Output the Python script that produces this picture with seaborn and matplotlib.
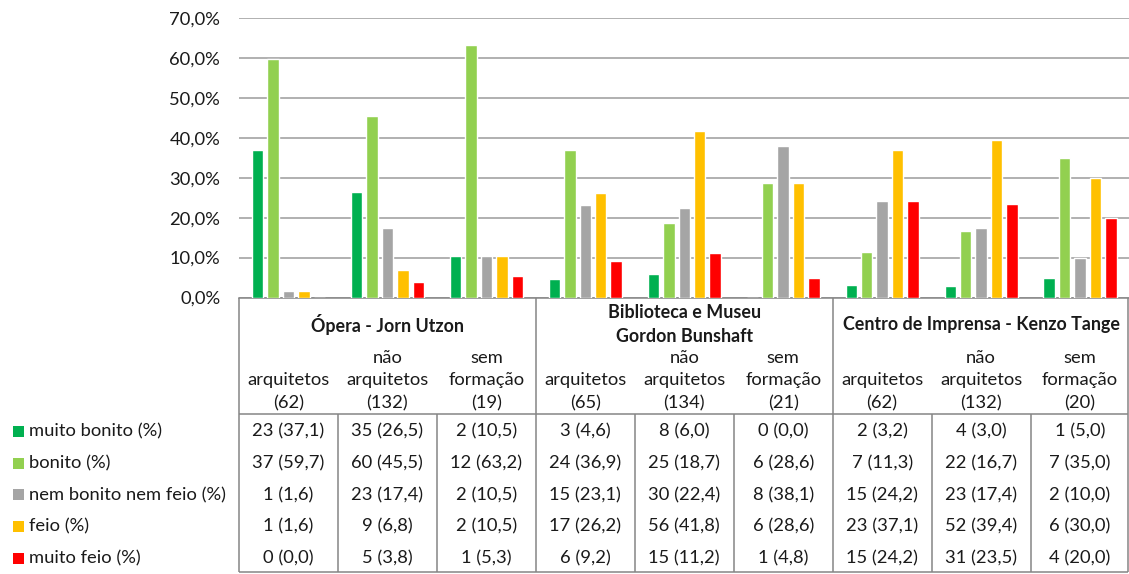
import matplotlib
matplotlib.use("Agg")
import matplotlib.pyplot as plt
from matplotlib.patches import Rectangle
from matplotlib.ticker import FuncFormatter
import pandas as pd
import seaborn as sns

# --- data -------------------------------------------------------------
buildings = ["Ópera - Jorn Utzon",
             "Biblioteca e Museu\nGordon Bunshaft",
             "Centro de Imprensa - Kenzo Tange"]
respondent_groups = ["arquitetos", "não\narquitetos", "sem\nformação"]
sample_sizes = [62, 132, 19, 65, 134, 21, 62, 132, 20]

ratings = ["muito bonito (%)", "bonito (%)", "nem bonito nem feio (%)",
           "feio (%)", "muito feio (%)"]
rating_colors = ["#00B050", "#92D050", "#A5A5A5", "#FFC000", "#FF0000"]

muito_bonito_n = [23, 35, 2, 3, 8, 0, 2, 4, 1]
muito_bonito_pct = [37.1, 26.5, 10.5, 4.6, 6.0, 0.0, 3.2, 3.0, 5.0]
bonito_n = [37, 60, 12, 24, 25, 6, 7, 22, 7]
bonito_pct = [59.7, 45.5, 63.2, 36.9, 18.7, 28.6, 11.3, 16.7, 35.0]
nem_bonito_nem_feio_n = [1, 23, 2, 15, 30, 8, 15, 23, 2]
nem_bonito_nem_feio_pct = [1.6, 17.4, 10.5, 23.1, 22.4, 38.1, 24.2, 17.4, 10.0]
feio_n = [1, 9, 2, 17, 56, 6, 23, 52, 6]
feio_pct = [1.6, 6.8, 10.5, 26.2, 41.8, 28.6, 37.1, 39.4, 30.0]
muito_feio_n = [0, 5, 1, 6, 15, 1, 15, 31, 4]
muito_feio_pct = [0.0, 3.8, 5.3, 9.2, 11.2, 4.8, 24.2, 23.5, 20.0]

y_ticks = [0, 10, 20, 30, 40, 50, 60, 70]

counts = [muito_bonito_n, bonito_n, nem_bonito_nem_feio_n, feio_n, muito_feio_n]
percents = [muito_bonito_pct, bonito_pct, nem_bonito_nem_feio_pct,
            feio_pct, muito_feio_pct]

columns = [f"c{i}" for i in range(len(sample_sizes))]
rows = []
for rating, pct_list in zip(ratings, percents):
    for col, pct in zip(columns, pct_list):
        rows.append({"coluna": col, "avaliacao": rating, "pct": pct})
df = pd.DataFrame(rows)

# --- style ------------------------------------------------------------
sns.set_style("white")
plt.rcParams["font.family"] = ["Lato", "DejaVu Sans"]
TEXT = "#1a1a1a"
FS = 13.2
FS_BOLD = 12.9
GRID = "#A3A3A3"
RULE = "#858585"

W, H = 1129, 574
fig = plt.figure(figsize=(W / 100, H / 100), dpi=100)

# plot area in pixels
x_left, x_right = 239.0, 1129.5
y_top, y_zero = 18.3, 297.5
ax = fig.add_axes([x_left / W, 1 - y_zero / H,
                   (x_right - x_left) / W, (y_zero - y_top) / H])

sns.barplot(data=df, x="coluna", y="pct", hue="avaliacao",
            order=columns, hue_order=ratings, palette=rating_colors,
            saturation=1, width=0.78, gap=0.26, legend=False, ax=ax,
            zorder=3)

ax.set_xlim(-0.5, len(columns) - 0.5)
ax.set_ylim(0, 70)
ax.set_yticks(y_ticks)
ax.yaxis.set_major_formatter(
    FuncFormatter(lambda v, _: f"{v:.1f}%".replace(".", ",")))
ax.tick_params(axis="y", length=0, pad=13.5, labelsize=FS, labelcolor=TEXT)
ax.tick_params(axis="x", length=0, labelbottom=False)
ax.set_xlabel("")
ax.set_ylabel("")
ax.grid(axis="y", color=GRID, linewidth=1.2, zorder=0)
ax.set_axisbelow(True)
for side in ("left", "right", "top"):
    ax.spines[side].set_visible(False)
ax.spines["bottom"].set_color(RULE)
ax.spines["bottom"].set_linewidth(1.1)

# --- data table below the bars ---------------------------------------
tab = fig.add_axes([0, 0, 1, 1], zorder=-1)
tab.set_xlim(0, W)
tab.set_ylim(H, 0)
tab.axis("off")

cw = (x_right - x_left) / len(columns)
col_x = [x_left + (i + 0.5) * cw for i in range(len(columns))]
y_header_rule = 414.0
y_bottom = 572.0
x_table_end = min(x_right, 1128.0)

line_kw = dict(color=RULE, linewidth=1.1, solid_capstyle="butt")
# outer / group boundaries span the full table height
for k in (0, 3, 6):
    xv = x_left + k * cw
    tab.plot([xv, xv], [y_zero, y_bottom], **line_kw)
tab.plot([x_table_end, x_table_end], [y_zero, y_bottom], **line_kw)
# column boundaries only in the value rows
for k in (1, 2, 4, 5, 7, 8):
    xv = x_left + k * cw
    tab.plot([xv, xv], [y_header_rule, y_bottom], **line_kw)
tab.plot([x_left, x_table_end], [y_header_rule, y_header_rule], **line_kw)
tab.plot([x_left, x_table_end], [y_bottom, y_bottom], **line_kw)

# building names (bold), centred over their three columns
for b, name in enumerate(buildings):
    xc = x_left + (3 * b + 1.5) * cw
    lines = name.split("\n")
    for i, line in enumerate(lines):
        yy = 324.5 + (i - (len(lines) - 1) / 2) * 23.5
        tab.text(xc, yy, line, ha="center", va="center", fontsize=FS_BOLD,
                 fontweight="bold", color=TEXT)

# respondent group headers, bottom aligned
for i, xc in enumerate(col_x):
    lines = respondent_groups[i % 3].split("\n") + [f"({sample_sizes[i]})"]
    for j, line in enumerate(lines):
        yy = 403.0 - (len(lines) - 1 - j) * 22.5
        tab.text(xc, yy, line, ha="center", va="center", fontsize=FS,
                 color=TEXT)

# value rows with legend keys
row_y = [431.7 + r * 31.6 for r in range(len(ratings))]
for r, (rating, color) in enumerate(zip(ratings, rating_colors)):
    yy = row_y[r]
    tab.add_patch(Rectangle((13, yy - 5.5), 11, 11, facecolor=color,
                            edgecolor="none"))
    tab.text(29, yy, rating, ha="left", va="center", fontsize=FS, color=TEXT)
    for i, xc in enumerate(col_x):
        label = f"{counts[r][i]} ({percents[r][i]:.1f})".replace(".", ",")
        tab.text(xc, yy, label, ha="center", va="center", fontsize=FS,
                 color=TEXT)

fig.savefig("out.png", dpi=100, facecolor="white")
